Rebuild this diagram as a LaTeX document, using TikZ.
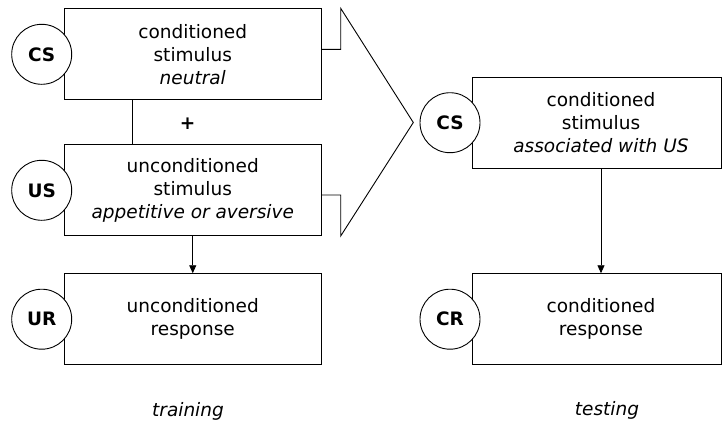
\documentclass[tikz,border=0pt]{standalone}
\usepackage{fontspec}
\setmainfont{DejaVu Sans}
\usetikzlibrary{arrows.meta}
\begin{document}
\begin{tikzpicture}[x=1pt,y=-1pt,
  box/.style={draw,line width=0.9pt,minimum width=257.5pt,minimum height=91pt,inner sep=0pt,align=center,font=\fontsize{18.5}{23}\selectfont},
  rbox/.style={draw,line width=0.9pt,minimum width=249pt,minimum height=91pt,inner sep=0pt},
  txt/.style={align=center,inner sep=0pt,font=\fontsize{18.5}{23}\selectfont},
  circ/.style={draw,fill=white,circle,line width=0.9pt,minimum size=60pt,inner sep=0pt,font=\fontsize{18.5}{20}\selectfont\bfseries},
  conn/.style={line width=0.9pt},
  arr/.style={line width=0.9pt,-{Triangle[length=8pt,width=7pt]}}]
\useasboundingbox (0,0) rectangle (723,426);
% left column
\node[box] (cs1) at (192.75,54.3) {conditioned\\stimulus\\\textit{neutral}};
\node[box] (us1) at (192.75,190.3) {unconditioned\\stimulus\\\textit{appetitive or aversive}};
\node[box] (ur1) at (192.75,319.2) {unconditioned\\response};
\node[circ] (c1) at (41.7,54.3) {CS};
\node[circ] (c2) at (41.7,190.3) {US};
\node[circ] (c3) at (41.7,319.2) {UR};
\draw[conn] (cs1.south -| 132.3,0) -- (us1.north -| 132.3,0);
\node[txt,font=\fontsize{18.5}{20}\selectfont\bfseries] (plus) at (187.7,124) {+};
\draw[arr] (us1.south) -- (ur1.north);
% big arrow
\coordinate (a1) at (340.7,49.3);
\coordinate (a2) at (340.7,8.3);
\coordinate (tip) at (413.3,122.5);
\coordinate (a3) at (340.7,236);
\coordinate (a4) at (340.7,195);
\draw[conn,line join=miter] (cs1.east |- a1) -- (a1) -- (a2) -- (tip) -- (a3) -- (a4) -- (us1.east |- a4);
% right column
\node[rbox] (cs2) at (597.1,122.7) {};
\node[txt] (cs2t) at (601,122.7) {conditioned\\stimulus\\\textit{associated with US}};
\node[rbox] (cr2) at (597.1,319.2) {};
\node[txt] (cr2t) at (601,319.2) {conditioned\\response};
\node[circ] (c4) at (450,122.7) {CS};
\node[circ] (c5) at (450,319.2) {CR};
\draw[arr] (cs2.south -| cs2t) -- (cr2.north -| cr2t);
% captions
\node[txt] (train) at (188,411) {\textit{training}};
\node[txt] (test) at (607,410) {\textit{testing}};
\end{tikzpicture}
\end{document}
